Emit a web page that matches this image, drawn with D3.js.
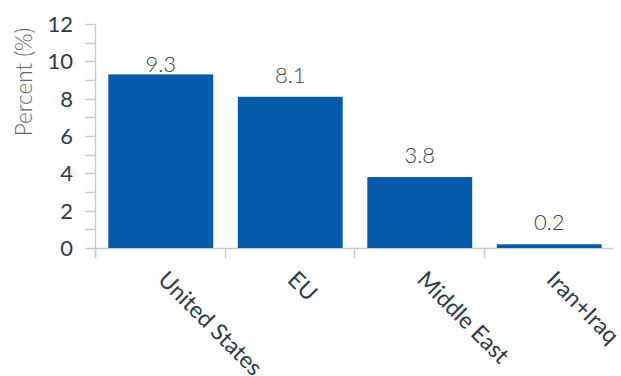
<!DOCTYPE html>
<html>
<head>
<meta charset="utf-8">
<script src="https://cdn.jsdelivr.net/npm/d3@7"></script>
<style>
  html, body { margin: 0; padding: 0; background: #fff; }
  svg { display: block; }
  text { font-family: Lato, "Open Sans", sans-serif; }
</style>
</head>
<body>
<svg id="chart" width="621" height="376"></svg>
<script>
// Regions and their shares (percent)
const categories = ["United States", "EU", "Middle East", "Iran+Iraq"];
const values = [9.3, 8.1, 3.8, 0.2];
const yTicks = [0, 2, 4, 6, 8, 10, 12];
const yMinorTicks = [1, 3, 5, 7, 9, 11];
const yTitle = "Percent (%)";

const svg = d3.select("#chart");
const plotLeft = 95, plotRight = 613, plotTop = 24, plotBottom = 248;

const x = d3.scaleBand().domain(categories).range([plotLeft, plotRight]).padding(0);
const y = d3.scaleLinear().domain([0, 12]).range([plotBottom, plotTop]);

const axisColor = "#cccccc";
const textColor = "#2f3b48";
const barColor = "#035aab";

// Y axis: line, major and minor ticks
svg.append("line")
  .attr("x1", plotLeft + 0.5).attr("x2", plotLeft + 0.5)
  .attr("y1", plotTop).attr("y2", plotBottom + 10)
  .attr("stroke", axisColor).attr("stroke-width", 1.5);

svg.selectAll(".ytick")
  .data(yTicks.concat(yMinorTicks))
  .join("line")
  .attr("x1", plotLeft - 10).attr("x2", plotLeft)
  .attr("y1", d => Math.round(y(d)) + 0.5)
  .attr("y2", d => Math.round(y(d)) + 0.5)
  .attr("stroke", axisColor).attr("stroke-width", 1.5);

svg.selectAll(".ylabel")
  .data(yTicks)
  .join("text")
  .attr("x", 73)
  .attr("y", d => y(d))
  .attr("dy", "0.36em")
  .attr("text-anchor", "end")
  .attr("font-size", 22)
  .attr("fill", textColor)
  .text(d => d);

svg.append("text")
  .attr("transform", `translate(32, ${(plotTop + plotBottom) / 2 - 54}) rotate(-90)`)
  .attr("text-anchor", "middle")
  .attr("font-size", 22.5)
  .attr("font-weight", 300)
  .attr("fill", "#666")
  .text(yTitle);

// X axis: baseline and band-boundary ticks
svg.append("line")
  .attr("x1", plotLeft).attr("x2", plotRight)
  .attr("y1", plotBottom + 0.5).attr("y2", plotBottom + 0.5)
  .attr("stroke", axisColor).attr("stroke-width", 1.5);

svg.selectAll(".xtick")
  .data(categories)
  .join("line")
  .attr("x1", d => Math.round(x(d)) + 0.5)
  .attr("x2", d => Math.round(x(d)) + 0.5)
  .attr("y1", plotBottom).attr("y2", plotBottom + 10)
  .attr("stroke", axisColor).attr("stroke-width", 1.5);

// Bars
const barW = x.bandwidth() * 0.81;
const data = categories.map((c, i) => ({ c, v: values[i] }));

svg.selectAll(".bar")
  .data(data)
  .join("rect")
  .attr("x", d => x(d.c) + (x.bandwidth() - barW) / 2 + 1)
  .attr("width", barW)
  .attr("y", d => y(d.v))
  .attr("height", d => y(0) - y(d.v))
  .attr("fill", barColor);

// Value labels above bars (pulled down near the top of the plot)
svg.selectAll(".val")
  .data(data)
  .join("text")
  .attr("x", d => x(d.c) + x.bandwidth() / 2 + 1)
  .attr("y", d => {
    const yy = y(d.v) - 14;
    return yy < 65 ? y(d.v) - 2 : yy;
  })
  .attr("text-anchor", "middle")
  .attr("font-size", 22)
  .attr("font-weight", 300)
  .attr("fill", "#444")
  .text(d => d.v.toFixed(1));

// Rotated category labels
svg.selectAll(".xlabel")
  .data(categories)
  .join("text")
  .attr("transform", d => `translate(${x(d) + x.bandwidth() / 2 - 3}, 281) rotate(45)`)
  .attr("font-size", 23)
  .attr("fill", textColor)
  .text(d => d);
</script>
</body>
</html>
